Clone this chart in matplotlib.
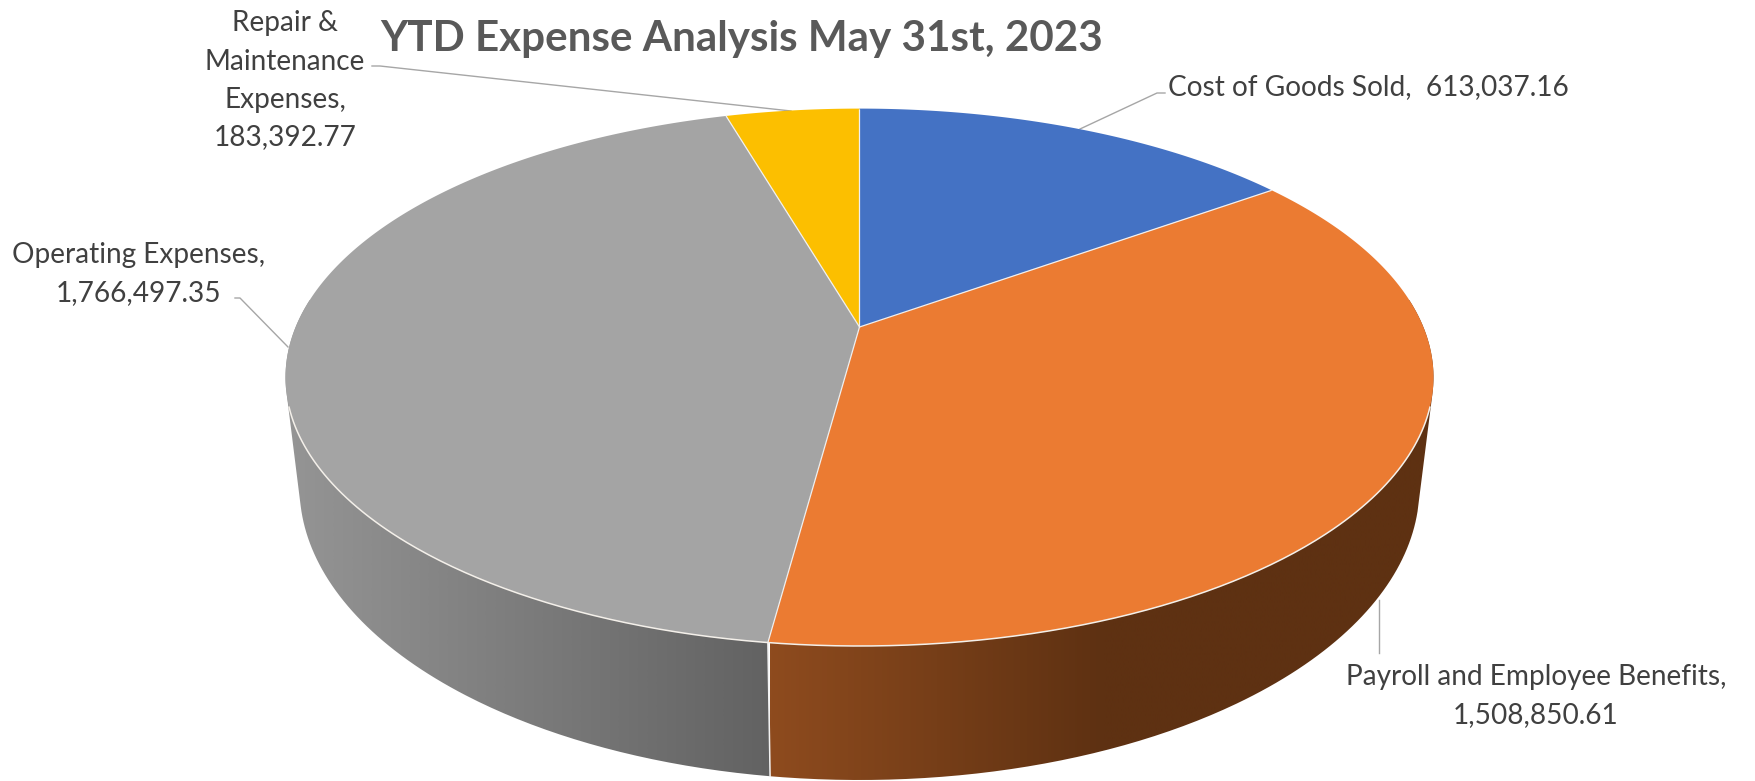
import numpy as np
import matplotlib
matplotlib.use("Agg")
import matplotlib.pyplot as plt
from matplotlib.colors import LinearSegmentedColormap
from matplotlib.patches import PathPatch, Polygon
from matplotlib.path import Path

plt.rcParams["font.family"] = ["Lato", "DejaVu Sans"]

# Expense data, clockwise from twelve o'clock
categories = ["Cost of Goods Sold", "Payroll and Employee Benefits",
              "Operating Expenses", "Repair & Maintenance Expenses"]
values = [613037.16, 1508850.61, 1766497.35, 183392.77]
colors = ["#4472C4", "#EB7B32", "#A4A4A4", "#FCBF00"]
title = "YTD Expense Analysis May 31st, 2023"

fig = plt.figure(figsize=(17.56, 7.81), dpi=100, facecolor="white")
ax = fig.add_axes([0, 0, 1, 1])
ax.set_xlim(0, 1756)
ax.set_ylim(781, 0)
ax.axis("off")

CX = 859.5


def disc(theta, radius, far, apex, near, rx):
    """Perspective view of a horizontal disc; theta runs clockwise from the far side."""
    c = (2 * apex - near - far) / (near - far)
    a = near * (1 + c) - apex
    k = rx * np.sqrt(1 - c * c)
    x = radius * np.sin(theta)
    y = -radius * np.cos(theta)
    w = 1 + c * y
    return CX + k * x / w, (a * y + apex) / w


def top(theta, radius=1.0):
    return disc(theta, radius, 108.6, 327.0, 646.0, 574.0)


def base(theta, radius=1.0):
    return disc(theta, radius, 194.0, 432.0, 780.0, 560.0)


def hull(points):
    pts = sorted(set(map(tuple, np.round(points, 3))))

    def half(seq):
        out = []
        for p in seq:
            while len(out) > 1:
                (x1, y1), (x2, y2) = out[-2], out[-1]
                if (x2 - x1) * (p[1] - y1) - (y2 - y1) * (p[0] - x1) > 0:
                    break
                out.pop()
            out.append(p)
        return out[:-1]

    return np.array(half(pts) + half(pts[::-1]))


fractions = np.array(values) / np.sum(values)
edges = np.concatenate([[0], np.cumsum(fractions)]) * 2 * np.pi

# Side wall: the outline joining both rims, split at the gray/orange seam
ring = np.linspace(0, 2 * np.pi, 721)
outline = hull(np.vstack([np.column_stack(top(ring)), np.column_stack(base(ring))]))
seam_angle = edges[2]
seam_top = np.array(top(seam_angle))
seam_bot = np.array(base(seam_angle))
side = ((seam_bot[0] - seam_top[0]) * (outline[:, 1] - seam_top[1])
        - (seam_bot[1] - seam_top[1]) * (outline[:, 0] - seam_top[0]))
right_part = hull(np.vstack([outline[side < 0], seam_top, seam_bot]))
left_part = hull(np.vstack([outline[side > 0], seam_top, seam_bot]))

walls = [
    (left_part, (285, 772), ["#959595", "#626262"]),
    (right_part, (770, 1436), ["#8E4B1E", "#5E3112", "#5E3112"]),
]
for part, (x0, x1), shades in walls:
    cmap = LinearSegmentedColormap.from_list("wall", shades)
    im = ax.imshow(np.linspace(0, 1, 512)[None, :], cmap=cmap, aspect="auto",
                   extent=(x0, x1, 790, 300), zorder=2, interpolation="bilinear")
    im.set_clip_path(PathPatch(Path(part, closed=False), transform=ax.transData))
ax.set_xlim(0, 1756)
ax.set_ylim(781, 0)
ax.plot([seam_top[0], seam_bot[0]], [seam_top[1], seam_bot[1]], color="#F2F2F2", lw=1.1, zorder=3)

# Top face
for start, stop, color in zip(edges[:-1], edges[1:], colors):
    t = np.linspace(start, stop, 240)
    xs, ys = top(t)
    xc, yc = top(0.0, 0.0)
    ax.add_patch(Polygon(np.column_stack([np.r_[xc, xs], np.r_[yc, ys]]), closed=True,
                         facecolor=color, edgecolor="none", zorder=4))

# Thin light separators along slice borders and the front rim
xc, yc = top(0.0, 0.0)
for angle in edges[:-1]:
    xe, ye = top(angle)
    ax.plot([xc, xe], [yc, ye], color="#F0F0F0", lw=0.9, zorder=5, solid_capstyle="butt")
t = np.linspace(0, 2 * np.pi, 721)
xr, yr = top(t)
front = yr > 405
order = np.argsort(xr[front])
ax.plot(xr[front][order], yr[front][order], color="#F4F0EA", lw=1.1, zorder=5)

# Leader lines
leaders = [
    ([1165, 1157, 1080], [93, 93, 129]),
    ([1379, 1379], [600, 653]),
    ([235, 240, 288], [298, 298, 347]),
    ([372, 380, 791], [66, 66, 111]),
]
for lx, ly in leaders:
    ax.plot(lx, ly, color="#A6A6A6", lw=1.0, zorder=1)

# Data labels
label_size = 20.2
ink = "#404040"
fmt = [f"{v:,.2f}" for v in values]
ax.text(1168, 87, f"{categories[0]},  {fmt[0]}", color=ink, fontsize=label_size, ha="left", va="center")
for (x, y), line in zip([(1536, 677), (1536, 715)], [f"{categories[1]},", fmt[1]]):
    ax.text(x, y, line, color=ink, fontsize=label_size, ha="center", va="center")
for (x, y), line in zip([(139, 255), (139, 293)], [f"{categories[2]},", fmt[2]]):
    ax.text(x, y, line, color=ink, fontsize=label_size, ha="center", va="center")
for y, line in zip([23, 62, 100, 137], ["Repair &", "Maintenance", "Expenses,", fmt[3]]):
    ax.text(285, y, line, color=ink, fontsize=label_size, ha="center", va="center")

ax.text(380, 51, title, color="#595959", fontsize=30.3, fontweight="bold", ha="left", va="baseline", zorder=6)

fig.savefig("out.png", dpi=100, facecolor="white")
